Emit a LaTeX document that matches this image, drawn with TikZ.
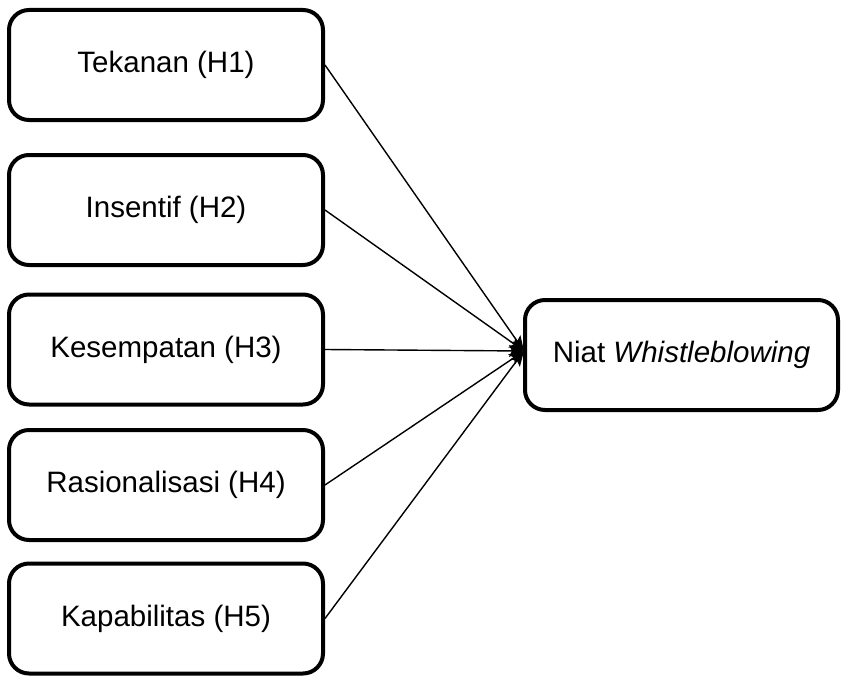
\documentclass[tikz,border=0pt]{standalone}
\usepackage{fontspec}
\setmainfont{Liberation Sans}
\usetikzlibrary{arrows.meta}
\begin{document}
\begin{tikzpicture}[x=1pt,y=-1pt,
  varbox/.style={draw=black, line width=4pt, rounded corners=20pt, fill=white,
    minimum width=314pt, minimum height=110pt, inner sep=0pt, outer sep=0pt,
    font=\fontsize{29.5}{34}\selectfont},
  link/.style={line width=1.4pt, -{Stealth[length=15pt,width=12pt,inset=3pt]}}]
\useasboundingbox (0,0) rectangle (841,677);
\node[varbox] (h1) at (166,65) {Tekanan (H1)};
\node[varbox] (h2) at (166,210) {Insentif (H2)};
\node[varbox] (h3) at (166,349.5) {Kesempatan (H3)};
\node[varbox] (h4) at (166,485) {Rasionalisasi (H4)};
\node[varbox] (h5) at (166,618.5) {Kapabilitas (H5)};
\node[varbox, minimum width=313pt] (t) at (681.5,355) {Niat \textit{Whistleblowing}};
\coordinate (conv) at ([xshift=-1pt,yshift=4pt]t.west);
\foreach \n in {h1,h2,h3,h4,h5}{
  \draw[link] ([xshift=2pt]\n.east) -- (conv);
}
\end{tikzpicture}
\end{document}
